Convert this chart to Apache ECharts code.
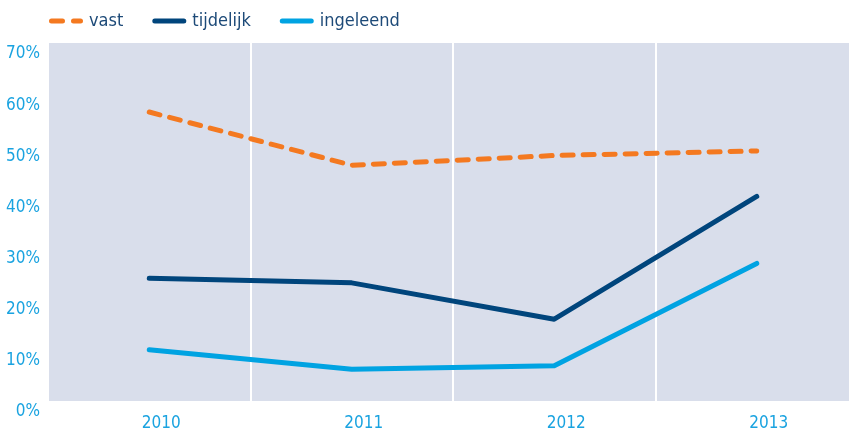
<!DOCTYPE html>
<html>
<head>
<meta charset="utf-8">
<script src="https://cdn.jsdelivr.net/npm/echarts@6/dist/echarts.min.js"></script>
<style>
html,body{margin:0;padding:0;background:#fff;}
#c{width:849px;height:431px;}
</style>
</head>
<body>
<div id="c"></div>
<script>
var categories = ['2010', '2011', '2012', '2013'];
var vast = [56.5, 46.1, 48.0, 48.9];
var tijdelijk = [24.0, 23.1, 16.0, 40.0];
var ingeleend = [10.0, 6.2, 6.9, 26.9];
var seriesNames = ['vast', 'tijdelijk', 'ingeleend'];

var FONT = "'Liberation Sans Narrow', 'DejaVu Sans Condensed', 'Roboto Condensed', sans-serif";
var DASH_ICON = 'path://M2.5,0h11a2.5,2.5 0 0 1 0,5h-11a2.5,2.5 0 0 1 0,-5z M24.5,0h7a2.5,2.5 0 0 1 0,5h-7a2.5,2.5 0 0 1 0,-5z';
var SOLID_ICON = 'path://M2.5,0h29a2.5,2.5 0 0 1 0,5h-29a2.5,2.5 0 0 1 0,-5z';

var chart = echarts.init(document.getElementById('c'), null, {renderer: 'canvas'});
chart.setOption({
  animation: false,
  backgroundColor: '#ffffff',
  textStyle: {fontFamily: FONT},
  legend: {
    left: 49, top: 12,
    itemWidth: 34, itemHeight: 5, itemGap: 29, padding: 0,
    textStyle: {fontFamily: FONT, fontSize: 18, color: '#1d4a78', padding: [0, 0, 0, 1]},
    data: [
      {name: seriesNames[0], icon: DASH_ICON, itemStyle: {color: '#f47920'}},
      {name: seriesNames[1], icon: SOLID_ICON, itemStyle: {color: '#00457c'}},
      {name: seriesNames[2], icon: SOLID_ICON, itemStyle: {color: '#00a3e2'}}
    ]
  },
  grid: {
    left: 48, width: 810, top: 43, height: 358,
    show: true, backgroundColor: '#d9deeb', borderWidth: 0,
    containLabel: false,
    outerBoundsMode: 'none'
  },
  xAxis: {
    type: 'category',
    data: categories,
    boundaryGap: true,
    axisLine: {show: false},
    axisTick: {show: false},
    axisLabel: {fontFamily: FONT, fontSize: 17, color: '#1aa3e0', margin: 14, padding: [0, 0, 0, 24]},
    splitLine: {show: true, lineStyle: {color: '#ffffff', width: 2}}
  },
  yAxis: {
    type: 'value',
    min: 0, max: 70, interval: 10,
    axisLine: {show: false},
    axisTick: {show: false},
    splitLine: {show: false},
    axisLabel: {fontFamily: FONT, fontSize: 17, color: '#1aa3e0', margin: 8,
      verticalAlign: 'top', lineHeight: 22,
      formatter: function (v) { return v + '%'; }}
  },
  series: [
    {name: 'vast', type: 'line', data: vast, symbol: 'none',
      lineStyle: {color: '#f47920', width: 5, type: [11, 10], cap: 'round', join: 'round'},
      itemStyle: {color: '#f47920'}},
    {name: 'tijdelijk', type: 'line', data: tijdelijk, symbol: 'none',
      lineStyle: {color: '#00457c', width: 5, cap: 'round', join: 'round'},
      itemStyle: {color: '#00457c'}},
    {name: 'ingeleend', type: 'line', data: ingeleend, symbol: 'none',
      lineStyle: {color: '#00a3e2', width: 5, cap: 'round', join: 'round'},
      itemStyle: {color: '#00a3e2'}}
  ]
});
</script>
</body>
</html>
